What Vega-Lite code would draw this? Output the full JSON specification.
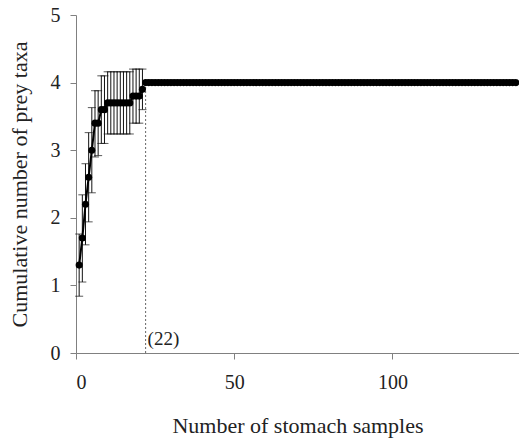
{
  "$schema": "https://vega.github.io/schema/vega-lite/v6.json",
  "width": 443,
  "height": 338,
  "autosize": {"type": "none"},
  "padding": {"left": 76, "top": 15, "right": 0, "bottom": 85},
  "background": "white",
  "config": {
    "view": {"stroke": null},
    "font": "Times New Roman",
    "axis": {
      "grid": false,
      "domainColor": "#808080",
      "tickColor": "#808080",
      "labelColor": "#222222",
      "titleColor": "#222222",
      "labelFont": "Times New Roman",
      "titleFont": "Times New Roman",
      "labelFontSize": 20,
      "titleFontSize": 22,
      "titleFontWeight": "normal",
      "tickSize": 6,
      "format": "d"
    }
  },
  "datasets": {
    "early": [
      {"n": 1, "m": 1.3, "lo": 0.84, "hi": 1.76},
      {"n": 2, "m": 1.7, "lo": 1.05, "hi": 2.34},
      {"n": 3, "m": 2.2, "lo": 1.6, "hi": 2.8},
      {"n": 4, "m": 2.6, "lo": 1.94, "hi": 3.26},
      {"n": 5, "m": 3.0, "lo": 2.37, "hi": 3.63},
      {"n": 6, "m": 3.4, "lo": 2.9, "hi": 3.88},
      {"n": 7, "m": 3.4, "lo": 2.92, "hi": 3.88},
      {"n": 8, "m": 3.6, "lo": 3.1, "hi": 4.1},
      {"n": 9, "m": 3.6, "lo": 3.1, "hi": 4.1},
      {"n": 10, "m": 3.7, "lo": 3.24, "hi": 4.16},
      {"n": 11, "m": 3.7, "lo": 3.24, "hi": 4.16},
      {"n": 12, "m": 3.7, "lo": 3.24, "hi": 4.16},
      {"n": 13, "m": 3.7, "lo": 3.24, "hi": 4.16},
      {"n": 14, "m": 3.7, "lo": 3.24, "hi": 4.16},
      {"n": 15, "m": 3.7, "lo": 3.24, "hi": 4.16},
      {"n": 16, "m": 3.7, "lo": 3.24, "hi": 4.16},
      {"n": 17, "m": 3.7, "lo": 3.24, "hi": 4.16},
      {"n": 18, "m": 3.8, "lo": 3.4, "hi": 4.2},
      {"n": 19, "m": 3.8, "lo": 3.4, "hi": 4.2},
      {"n": 20, "m": 3.8, "lo": 3.4, "hi": 4.2},
      {"n": 21, "m": 3.9, "lo": 3.6, "hi": 4.2}
    ],
    "late": [
      {"n": 22, "m": 4}, {"n": 23, "m": 4}, {"n": 24, "m": 4}, {"n": 25, "m": 4}, {"n": 26, "m": 4},
      {"n": 27, "m": 4}, {"n": 28, "m": 4}, {"n": 29, "m": 4}, {"n": 30, "m": 4}, {"n": 31, "m": 4},
      {"n": 32, "m": 4}, {"n": 33, "m": 4}, {"n": 34, "m": 4}, {"n": 35, "m": 4}, {"n": 36, "m": 4},
      {"n": 37, "m": 4}, {"n": 38, "m": 4}, {"n": 39, "m": 4}, {"n": 40, "m": 4}, {"n": 41, "m": 4},
      {"n": 42, "m": 4}, {"n": 43, "m": 4}, {"n": 44, "m": 4}, {"n": 45, "m": 4}, {"n": 46, "m": 4},
      {"n": 47, "m": 4}, {"n": 48, "m": 4}, {"n": 49, "m": 4}, {"n": 50, "m": 4}, {"n": 51, "m": 4},
      {"n": 52, "m": 4}, {"n": 53, "m": 4}, {"n": 54, "m": 4}, {"n": 55, "m": 4}, {"n": 56, "m": 4},
      {"n": 57, "m": 4}, {"n": 58, "m": 4}, {"n": 59, "m": 4}, {"n": 60, "m": 4}, {"n": 61, "m": 4},
      {"n": 62, "m": 4}, {"n": 63, "m": 4}, {"n": 64, "m": 4}, {"n": 65, "m": 4}, {"n": 66, "m": 4},
      {"n": 67, "m": 4}, {"n": 68, "m": 4}, {"n": 69, "m": 4}, {"n": 70, "m": 4}, {"n": 71, "m": 4},
      {"n": 72, "m": 4}, {"n": 73, "m": 4}, {"n": 74, "m": 4}, {"n": 75, "m": 4}, {"n": 76, "m": 4},
      {"n": 77, "m": 4}, {"n": 78, "m": 4}, {"n": 79, "m": 4}, {"n": 80, "m": 4}, {"n": 81, "m": 4},
      {"n": 82, "m": 4}, {"n": 83, "m": 4}, {"n": 84, "m": 4}, {"n": 85, "m": 4}, {"n": 86, "m": 4},
      {"n": 87, "m": 4}, {"n": 88, "m": 4}, {"n": 89, "m": 4}, {"n": 90, "m": 4}, {"n": 91, "m": 4},
      {"n": 92, "m": 4}, {"n": 93, "m": 4}, {"n": 94, "m": 4}, {"n": 95, "m": 4}, {"n": 96, "m": 4},
      {"n": 97, "m": 4}, {"n": 98, "m": 4}, {"n": 99, "m": 4}, {"n": 100, "m": 4}, {"n": 101, "m": 4},
      {"n": 102, "m": 4}, {"n": 103, "m": 4}, {"n": 104, "m": 4}, {"n": 105, "m": 4}, {"n": 106, "m": 4},
      {"n": 107, "m": 4}, {"n": 108, "m": 4}, {"n": 109, "m": 4}, {"n": 110, "m": 4}, {"n": 111, "m": 4},
      {"n": 112, "m": 4}, {"n": 113, "m": 4}, {"n": 114, "m": 4}, {"n": 115, "m": 4}, {"n": 116, "m": 4},
      {"n": 117, "m": 4}, {"n": 118, "m": 4}, {"n": 119, "m": 4}, {"n": 120, "m": 4}, {"n": 121, "m": 4},
      {"n": 122, "m": 4}, {"n": 123, "m": 4}, {"n": 124, "m": 4}, {"n": 125, "m": 4}, {"n": 126, "m": 4},
      {"n": 127, "m": 4}, {"n": 128, "m": 4}, {"n": 129, "m": 4}, {"n": 130, "m": 4}, {"n": 131, "m": 4},
      {"n": 132, "m": 4}, {"n": 133, "m": 4}, {"n": 134, "m": 4}, {"n": 135, "m": 4}, {"n": 136, "m": 4},
      {"n": 137, "m": 4}, {"n": 138, "m": 4}, {"n": 139, "m": 4}
    ],
    "marker": [{"n": 22, "y0": 0, "y1": 4, "label": "(22)", "ly": 0.2}]
  },
  "layer": [
    {
      "data": {"name": "marker"},
      "mark": {"type": "rule", "color": "#666666", "strokeDash": [2, 2], "strokeWidth": 1},
      "encoding": {
        "x": {"field": "n", "type": "quantitative", "scale": {"domain": [0, 140], "nice": false},
          "axis": {"values": [0, 50, 100], "title": "Number of stomach samples", "titlePadding": 23, "labelPadding": 13}},
        "y": {"field": "y0", "type": "quantitative", "scale": {"domain": [0, 5]},
          "axis": {"values": [0, 1, 2, 3, 4, 5], "title": "Cumulative number of prey taxa", "titlePadding": 19, "labelPadding": 10}},
        "y2": {"field": "y1"}
      }
    },
    {
      "data": {"name": "marker"},
      "mark": {"type": "text", "align": "left", "baseline": "middle", "dx": 2, "fontSize": 19, "font": "Times New Roman", "color": "#222222"},
      "encoding": {
        "x": {"field": "n", "type": "quantitative"},
        "y": {"field": "ly", "type": "quantitative"},
        "text": {"field": "label"}
      }
    },
    {
      "data": {"name": "early"},
      "mark": {"type": "rule", "color": "#111111", "strokeWidth": 1},
      "encoding": {
        "x": {"field": "n", "type": "quantitative"},
        "y": {"field": "lo", "type": "quantitative"},
        "y2": {"field": "hi"}
      }
    },
    {
      "data": {"name": "early"},
      "mark": {"type": "tick", "orient": "horizontal", "color": "#111111", "size": 8, "thickness": 1},
      "encoding": {
        "x": {"field": "n", "type": "quantitative"},
        "y": {"field": "lo", "type": "quantitative"}
      }
    },
    {
      "data": {"name": "early"},
      "mark": {"type": "tick", "orient": "horizontal", "color": "#111111", "size": 8, "thickness": 1},
      "encoding": {
        "x": {"field": "n", "type": "quantitative"},
        "y": {"field": "hi", "type": "quantitative"}
      }
    },
    {
      "data": {"name": "early"},
      "mark": {"type": "line", "color": "#000000", "strokeWidth": 2},
      "encoding": {
        "x": {"field": "n", "type": "quantitative"},
        "y": {"field": "m", "type": "quantitative"}
      }
    },
    {
      "data": {"name": "late"},
      "mark": {"type": "line", "color": "#000000", "strokeWidth": 2},
      "encoding": {
        "x": {"field": "n", "type": "quantitative"},
        "y": {"field": "m", "type": "quantitative"}
      }
    },
    {
      "data": {"name": "early"},
      "mark": {"type": "point", "filled": true, "color": "#000000", "size": 50, "opacity": 1},
      "encoding": {
        "x": {"field": "n", "type": "quantitative"},
        "y": {"field": "m", "type": "quantitative"}
      }
    },
    {
      "data": {"name": "late"},
      "mark": {"type": "point", "filled": true, "color": "#000000", "size": 50, "opacity": 1},
      "encoding": {
        "x": {"field": "n", "type": "quantitative"},
        "y": {"field": "m", "type": "quantitative"}
      }
    }
  ]
}
